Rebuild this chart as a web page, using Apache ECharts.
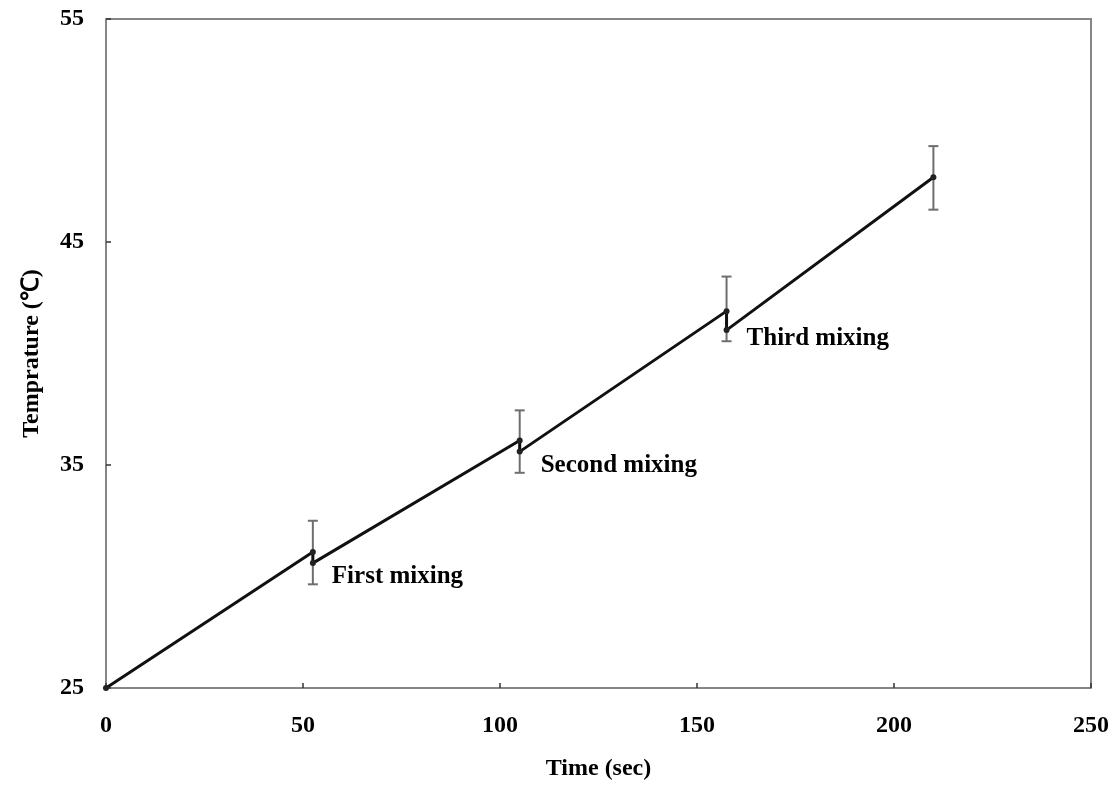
<!DOCTYPE html>
<html>
<head>
<meta charset="utf-8">
<script src="https://cdn.jsdelivr.net/npm/echarts@6/dist/echarts.min.js"></script>
<style>
  html, body { margin: 0; padding: 0; background: #fff; }
  #chart { width: 1117px; height: 788px; }
</style>
</head>
<body>
<div id="chart"></div>
<script>
// 温度随时间变化，每次混合时有一个小跳变
const timeSec = [0, 52.5, 52.5, 105, 105, 157.5, 157.5, 210];
const tempC = [25, 31.1, 30.6, 36.1, 35.6, 41.9, 41.05, 47.9];

// 误差线
const errTime = [52.5, 105, 157.5, 210];
const errLow = [29.65, 34.65, 40.55, 46.45];
const errHigh = [32.5, 37.45, 43.45, 49.3];

// 混合标注（放在跳变后的点上）
const mixingIndex = [2, 4, 6];
const mixingNames = ['First mixing', 'Second mixing', 'Third mixing'];

const xTicks = [0, 50, 100, 150, 200, 250];
const yTicks = [25, 35, 45, 55];

const fontFamily = '"Liberation Serif", "Times New Roman", serif';
const axisColor = '#858585';

const lineData = timeSec.map((t, i) => [t, tempC[i]]);
const labelOffsets = [[11, 13], [13, 14], [12, 8]];
mixingIndex.forEach((idx, k) => {
    lineData[idx] = {
        value: lineData[idx],
        label: {
            show: true,
            position: 'right',
            offset: labelOffsets[k],
            formatter: mixingNames[k],
            fontFamily,
            fontWeight: 'bold',
            fontSize: 25,
            color: '#000'
        }
    };
});

const errData = errTime.map((t, i) => [t, errLow[i], errHigh[i]]);

const chart = echarts.init(document.getElementById('chart'));
const option = {
    animation: false,
    backgroundColor: '#fff',
    grid: { left: 106, top: 19, right: 26, bottom: 100, containLabel: false },
    xAxis: {
        type: 'value',
        min: 0, max: 250, interval: 50,
        name: 'Time (sec)',
        nameLocation: 'middle',
        nameGap: 69,
        nameTextStyle: { fontFamily, fontWeight: 'bold', fontSize: 24, color: '#000' },
        axisLine: { show: true, lineStyle: { color: axisColor, width: 2 } },
        axisTick: { show: true, inside: true, length: 5, lineStyle: { color: '#333', width: 1.5 } },
        axisLabel: {
            margin: 26, fontFamily, fontWeight: 'bold', fontSize: 24, color: '#000',
            customValues: xTicks
        },
        splitLine: { show: false }
    },
    yAxis: {
        type: 'value',
        min: 25, max: 55, interval: 10,
        name: 'Temprature (℃)',
        nameLocation: 'middle',
        nameGap: 62,
        nameTextStyle: { fontFamily, fontWeight: 'bold', fontSize: 24, color: '#000' },
        axisLine: { show: true, lineStyle: { color: axisColor, width: 2 } },
        axisTick: { show: true, inside: true, length: 5, lineStyle: { color: '#333', width: 1.5 } },
        axisLabel: {
            margin: 22, fontFamily, fontWeight: 'bold', fontSize: 24, color: '#000',
            customValues: yTicks
        },
        splitLine: { show: false }
    },
    graphic: [{
        // 右侧和上方边框
        type: 'polyline',
        shape: { points: [[106, 19], [1091, 19], [1091, 688]] },
        style: { stroke: axisColor, lineWidth: 2, fill: null },
        silent: true
    }],
    series: [
        {
            type: 'custom',
            name: 'error',
            data: errData,
            z: 1,
            renderItem: function (params, api) {
                const x = api.value(0);
                const lo = api.coord([x, api.value(1)]);
                const hi = api.coord([x, api.value(2)]);
                const cap = 5;
                const style = { stroke: '#6e6e6e', lineWidth: 2 };
                return {
                    type: 'group',
                    children: [
                        { type: 'line', shape: { x1: lo[0], y1: lo[1], x2: hi[0], y2: hi[1] }, style },
                        { type: 'line', shape: { x1: hi[0] - cap, y1: hi[1], x2: hi[0] + cap, y2: hi[1] }, style },
                        { type: 'line', shape: { x1: lo[0] - cap, y1: lo[1], x2: lo[0] + cap, y2: lo[1] }, style }
                    ]
                };
            }
        },
        {
            type: 'line',
            name: 'temp',
            data: lineData,
            z: 2,
            symbol: 'circle',
            symbolSize: 6,
            itemStyle: { color: '#222' },
            lineStyle: { color: '#111', width: 3 }
        }
    ]
};
chart.setOption(option);
</script>
</body>
</html>
